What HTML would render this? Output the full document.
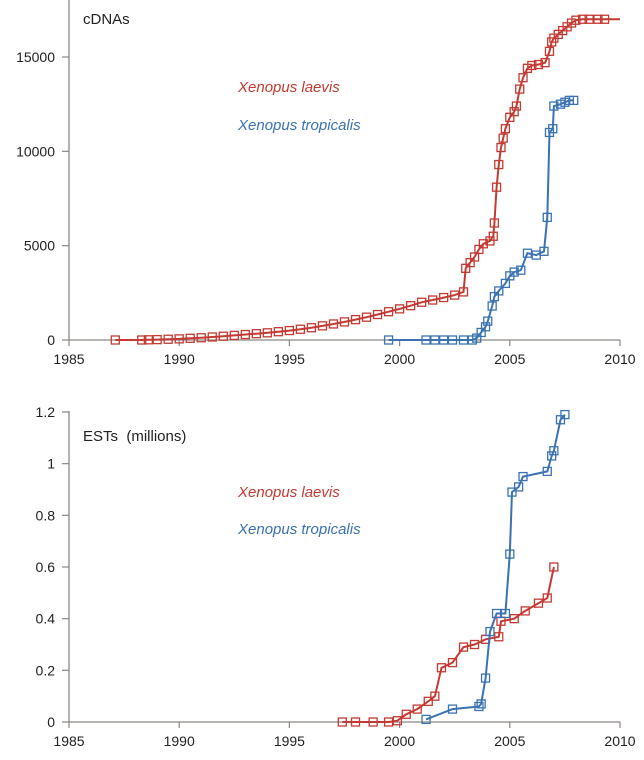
<!DOCTYPE html>
<html><head><meta charset="utf-8"><style>
body{margin:0;background:#fff;}
svg{display:block;font-family:"Liberation Sans",sans-serif;}
</style></head><body>
<svg id="chart" width="644" height="760"></svg>
<script>
// Top chart: cDNAs
const cdnaLaevisYears=[1987.1,1988.3,1988.6,1989,1989.5,1990,1990.5,1991,1991.5,1992,1992.5,1993,1993.5,1994,1994.5,1995,1995.5,1996,1996.5,1997,1997.5,1998,1998.5,1999,1999.5,2000,2000.5,2001,2001.5,2002,2002.5,2002.9,2003.0,2003.2,2003.4,2003.6,2003.8,2004.1,2004.25,2004.3,2004.4,2004.5,2004.6,2004.7,2004.8,2005.0,2005.2,2005.3,2005.45,2005.6,2005.8,2006.0,2006.3,2006.6,2006.8,2006.9,2007.0,2007.2,2007.4,2007.6,2007.8,2008.0,2008.3,2008.6,2009,2009.3,2010];
const cdnaLaevisValues=[0,0,10,20,40,60,90,120,160,200,245,290,335,380,440,500,570,650,750,850,960,1080,1210,1350,1500,1650,1820,2000,2120,2250,2380,2550,3800,4100,4400,4800,5100,5250,5500,6200,8100,9300,10200,10700,11200,11800,12100,12400,13300,13900,14400,14550,14600,14700,15300,15800,16000,16200,16400,16600,16800,16950,17000,17000,17000,17000,17000];
const cdnaTropYears=[1999.5,2001.2,2001.6,2002,2002.4,2002.9,2003.3,2003.5,2003.7,2003.9,2004.0,2004.2,2004.3,2004.5,2004.8,2005.0,2005.2,2005.5,2005.8,2006.2,2006.55,2006.7,2006.8,2006.95,2007.0,2007.3,2007.5,2007.7,2007.9];
const cdnaTropValues=[0,0,0,0,0,0,0,100,400,700,1000,1800,2300,2600,3000,3400,3600,3700,4600,4500,4700,6500,11000,11200,12400,12500,12600,12700,12700];
const cdnaYTicks=[0,5000,10000,15000];
// Bottom chart: ESTs (millions)
const estLaevisYears=[1997.4,1998,1998.8,1999.5,1999.9,2000.3,2000.8,2001.3,2001.6,2001.9,2002.4,2002.9,2003.4,2003.9,2004.5,2004.6,2005.2,2005.7,2006.3,2006.7,2007.0];
const estLaevisValues=[0,0,0,0,0.005,0.03,0.05,0.08,0.10,0.21,0.23,0.29,0.30,0.32,0.33,0.39,0.40,0.43,0.46,0.48,0.60];
const estTropYears=[2001.2,2002.4,2003.6,2003.7,2003.9,2004.1,2004.4,2004.8,2005.0,2005.1,2005.4,2005.6,2006.7,2006.9,2007.0,2007.3,2007.5];
const estTropValues=[0.01,0.05,0.06,0.07,0.17,0.35,0.42,0.42,0.65,0.89,0.91,0.95,0.97,1.03,1.05,1.17,1.19];
const estYTicks=[0,0.2,0.4,0.6,0.8,1,1.2];
const xTicks=[1985,1990,1995,2000,2005,2010];

const NS='http://www.w3.org/2000/svg';
const svg=document.getElementById('chart');
const RED='#c43a33', BLUE='#3a72b3', AX='#8c8784';
function mk(tag,attrs,parent){const e=document.createElementNS(NS,tag);for(const k in attrs)e.setAttribute(k,attrs[k]);(parent||svg).appendChild(e);return e;}

function panel(cfg){
  const g=mk('g',{});
  
  
  const xs=y=>69+(y-1985)*(620-69)/25;
  const ys=v=>cfg.y0-v*cfg.k;
  mk('line',{x1:69,y1:cfg.top,x2:69,y2:cfg.y0,stroke:AX,'stroke-width':1.3},g);
  mk('line',{x1:69,y1:cfg.y0,x2:620,y2:cfg.y0,stroke:AX,'stroke-width':1.3},g);
  cfg.yTicks.forEach(t=>{
    mk('line',{x1:62,y1:ys(t),x2:69,y2:ys(t),stroke:AX,'stroke-width':1.2},g);
    const tx=mk('text',{x:55,y:ys(t)+5,'text-anchor':'end','font-size':14,fill:'#222'},g);
    tx.textContent=t;
    
    
  });
  xTicks.forEach(t=>{
    mk('line',{x1:xs(t),y1:cfg.y0,x2:xs(t),y2:cfg.y0+6,stroke:AX,'stroke-width':1.2},g);
    const tx=mk('text',{x:xs(t),y:cfg.y0+24,'text-anchor':'middle','font-size':14,fill:'#222'},g);
    tx.textContent=t;
    
    
  });
  const title=mk('text',{x:83,y:cfg.titleY,'font-size':15,fill:'#222'},g);
  title.textContent=cfg.title;
  
  
  title.setAttribute('xml:space','preserve');
  title.style.whiteSpace='pre';
  cfg.series.forEach(s=>{
    const pts=s.x.map((x,i)=>xs(x).toFixed(1)+','+ys(s.v[i]).toFixed(1)).join(' ');
    const pl=mk('polyline',{points:pts,fill:'none',stroke:s.color,'stroke-width':2},g);
    
    
    const n=s.noLastMarker?s.x.length-1:s.x.length;
    for(let i=0;i<n;i++){
      const r=mk('rect',{x:xs(s.x[i])-4,y:ys(s.v[i])-4,width:8,height:8,fill:'none',stroke:s.color,'stroke-width':1.3},g);
      
      
    }
  });
  cfg.legend.forEach(l=>{
    const t=mk('text',{x:238,y:l.y,'font-size':15,'font-style':'italic',fill:l.color},g);
    t.textContent=l.text;
    
    
  });
}

panel({name:'cdna-chart',top:0,y0:340,k:283/15000,yTicks:cdnaYTicks,title:'cDNAs',titleY:24,
  series:[{name:'cdna-laevis',x:cdnaLaevisYears,v:cdnaLaevisValues,color:RED,noLastMarker:true},
          {name:'cdna-tropicalis',x:cdnaTropYears,v:cdnaTropValues,color:BLUE}],
  legend:[{text:'Xenopus laevis',y:92,color:RED},{text:'Xenopus tropicalis',y:130,color:BLUE}]});
panel({name:'est-chart',top:411,y0:722,k:310/1.2,yTicks:estYTicks,title:'ESTs  (millions)',titleY:441,
  series:[{name:'est-laevis',x:estLaevisYears,v:estLaevisValues,color:RED},
          {name:'est-tropicalis',x:estTropYears,v:estTropValues,color:BLUE}],
  legend:[{text:'Xenopus laevis',y:497,color:RED},{text:'Xenopus tropicalis',y:534,color:BLUE}]});
</script>
</body></html>
